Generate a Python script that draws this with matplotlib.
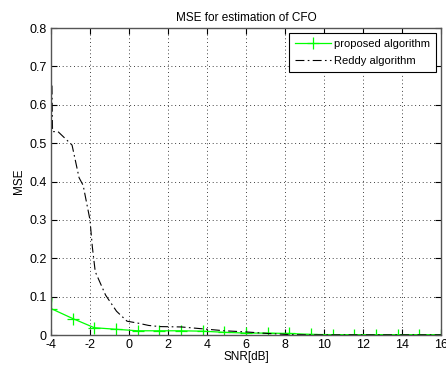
import matplotlib
matplotlib.use('Agg')
import matplotlib.pyplot as plt
import numpy as np

plt.rcParams['font.family'] = ['Liberation Sans', 'DejaVu Sans']
plt.rcParams['axes.unicode_minus'] = False

# SNR grid for the proposed algorithm (19 points from -4 to 16 dB)
snr = np.linspace(-4, 16, 19)
mse_proposed = [0.069, 0.043, 0.019, 0.015, 0.011, 0.011, 0.011, 0.010, 0.007, 0.005,
                0.005, 0.004, 0.0015, 0.001, 0.001, 0.001, 0.001, 0.001, 0.001]
# first sample of the proposed curve sits above the first marker
snr_prop_line = [-3.95] + list(snr)
mse_prop_line = [0.095] + mse_proposed

# Reddy algorithm curve
snr_reddy = [-3.95, -3.92, -3.64, -2.92, -2.56, -2.35, -2.0, -1.88, -1.73, -1.2,
             -0.64, -0.1, 0.46, 1.0, 1.56, 2.69, 3.8, 4.91, 6.02, 7.13, 8.24,
             9.35, 10.46, 11.58, 12.69, 13.79, 14.9, 16.0]
mse_reddy = [0.65, 0.53, 0.53, 0.495, 0.41, 0.39, 0.30, 0.23, 0.165, 0.104,
             0.062, 0.036, 0.031, 0.025, 0.022, 0.021, 0.016, 0.011, 0.008, 0.004, 0.001,
             0.0005, 0.0005, 0.0005, 0.0005, 0.0005, 0.0005, 0.0005]

fig = plt.figure(figsize=(4.46, 3.69), dpi=100)
ax = fig.add_axes([0.1143, 0.0921, 0.8745, 0.8320])

ax.plot(snr_prop_line, mse_prop_line, color=(0, 1, 0), lw=0.9, marker='+',
        markersize=8, markeredgewidth=0.9, markevery=list(range(1, 20)),
        label='proposed algorithm')
ax.plot(snr_reddy, mse_reddy, color='black', lw=0.8, ls=(0, (8, 3, 1.5, 3)),
        label='Reddy algorithm')

ax.set_xlim(-4, 16)
ax.set_ylim(0, 0.8)
ax.set_xticks(np.arange(-4, 17, 2))
ax.set_yticks(np.arange(0, 0.81, 0.1))
ax.set_yticklabels(['0', '0.1', '0.2', '0.3', '0.4', '0.5', '0.6', '0.7', '0.8'])
ax.grid(True, color='black', ls=(0, (1, 3.5)), lw=0.6)
ax.tick_params(direction='in', top=True, right=True, labelsize=9, length=4, pad=3)
for s in ax.spines.values():
    s.set_color('#555555')
    s.set_linewidth(1.0)

ax.set_title('MSE for estimation of CFO', fontsize=8.5, pad=5)
ax.set_xlabel('SNR[dB]', fontsize=8.5, labelpad=0)
ax.set_ylabel('MSE', fontsize=8.5, labelpad=3)

leg = ax.legend(loc='upper right', fontsize=8, fancybox=False, framealpha=1,
                edgecolor='black', borderaxespad=0.45, handlelength=3.2,
                handletextpad=0.3, borderpad=0.55, labelspacing=0.6)
leg.get_frame().set_linewidth(0.8)

plt.savefig('out.png', dpi=100)
